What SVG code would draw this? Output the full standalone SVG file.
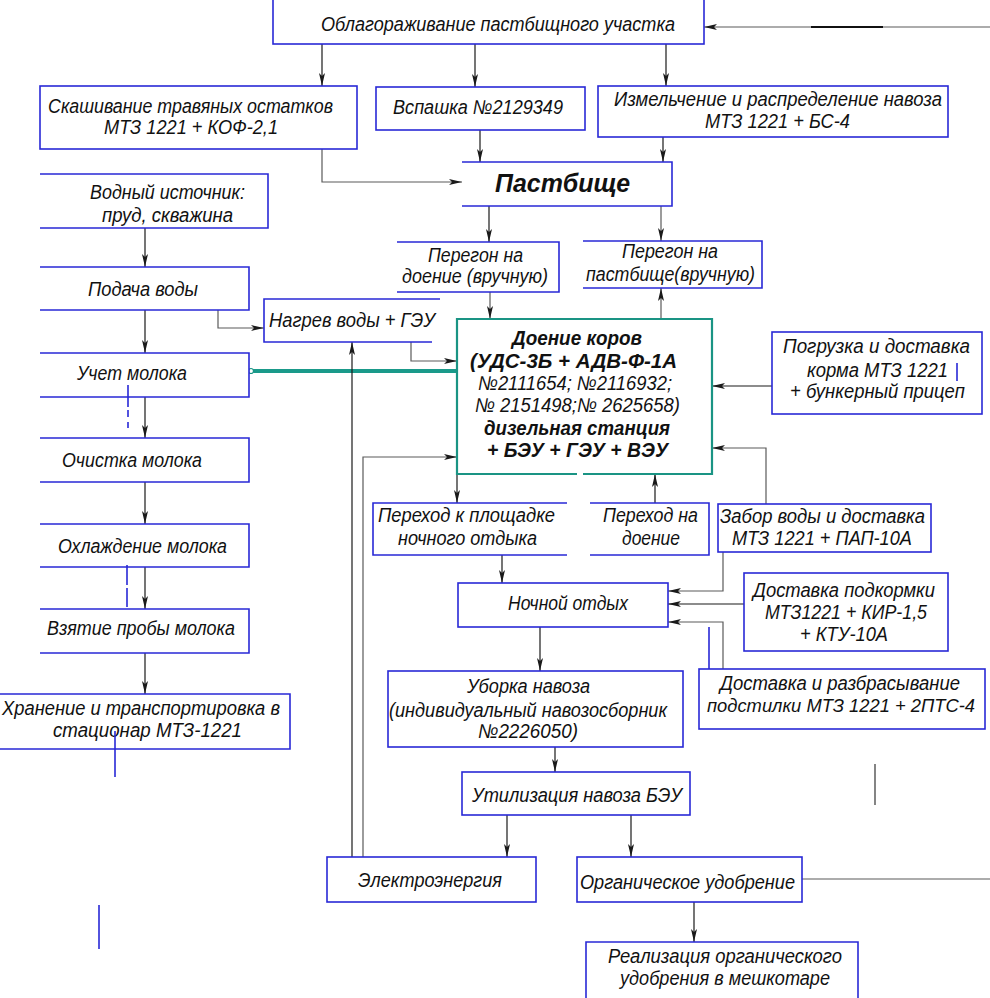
<svg xmlns="http://www.w3.org/2000/svg" width="990" height="998" viewBox="0 0 990 998">
<defs>
<style>
.b{fill:#fff;stroke:#2828d6;stroke-width:1.6}
.tb{fill:#fff;stroke:#1a9484;stroke-width:2.2}
.c{fill:none;stroke:#1a1a1a;stroke-width:1.2}
.g{fill:none;stroke:#5a5a5a;stroke-width:1.2}
.m{fill:none;stroke:#2828d6;stroke-width:1.6}
text{font-family:"Liberation Sans",Arial,sans-serif;font-style:italic;font-size:20px;fill:#111}
.bd{font-weight:bold}
.big{font-weight:bold;font-size:26px}
.sm{font-size:18px}
</style>
<marker id="a" markerUnits="userSpaceOnUse" markerWidth="14" markerHeight="7" refX="13" refY="3.5" orient="auto"><path d="M0,0.5 L13,3.5 L0,6.5 L3,3.5 z" fill="#1a1a1a"/></marker>
<marker id="o" markerUnits="userSpaceOnUse" markerWidth="8" markerHeight="8" refX="4" refY="4" orient="auto"><circle cx="4" cy="4" r="2.5" fill="#fff" stroke="#1a9484" stroke-width="1.2"/></marker>
</defs>

<g id="connectors">
<path class="g" d="M990,27 H704" marker-end="url(#a)"/>
<path d="M811,27 H883" stroke="#111" stroke-width="2"/>
<path class="c" d="M322,44 V86" marker-end="url(#a)"/>
<path class="c" d="M475,44 V87" marker-end="url(#a)"/>
<path class="c" d="M666,44 V86" marker-end="url(#a)"/>
<path class="g" d="M322,149 V182 H462" marker-end="url(#a)"/>
<path class="c" d="M480,130 V162" marker-end="url(#a)"/>
<path class="c" d="M663,137 V162" marker-end="url(#a)"/>
<path class="c" d="M489,206 V242" marker-end="url(#a)"/>
<path class="g" d="M661,206 V241" marker-end="url(#a)"/>
<path class="g" d="M490,292 V319" marker-end="url(#a)"/>
<path class="g" d="M661,319 V288" marker-end="url(#a)"/>
<path class="c" d="M145,228 V267" marker-end="url(#a)"/>
<path class="c" d="M145,310 V353" marker-end="url(#a)"/>
<path class="c" d="M145,397 V438" marker-end="url(#a)"/>
<path class="c" d="M145,482 V524" marker-end="url(#a)"/>
<path class="c" d="M145,567 V609" marker-end="url(#a)"/>
<path class="c" d="M145,653 V694" marker-end="url(#a)"/>
<path class="g" d="M218,310 V328 H264" marker-end="url(#a)"/>
<path class="g" d="M411,342 V361 H457" marker-end="url(#a)"/>
<path d="M457,371 H251" fill="none" stroke="#1a9a8a" stroke-width="4" marker-end="url(#o)"/>
<path class="c" d="M352,857 V342" marker-end="url(#a)"/>
<path class="g" d="M363,857 V457 H457" marker-end="url(#a)"/>
<path class="c" d="M772,386 H712" marker-end="url(#a)"/>
<path class="c" d="M457,474 V503" marker-end="url(#a)"/>
<path class="c" d="M655,503 V474" marker-end="url(#a)"/>
<path class="g" d="M766,504 V448 H712" marker-end="url(#a)"/>
<path class="c" d="M502,555 V583" marker-end="url(#a)"/>
<path class="g" d="M723,552 V591 H668" marker-end="url(#a)"/>
<path class="c" d="M744,604 H668" marker-end="url(#a)"/>
<path class="g" d="M723,669 V622 H668" marker-end="url(#a)"/>
<path class="c" d="M540,627 V671" marker-end="url(#a)"/>
<path class="c" d="M555,740 V772" marker-end="url(#a)"/>
<path class="c" d="M507,815 V857" marker-end="url(#a)"/>
<path class="c" d="M631,815 V857" marker-end="url(#a)"/>
<path class="g" d="M802,879 H990"/>
<path class="c" d="M694,902 V942" marker-end="url(#a)"/>
</g>

<g id="n_oblag"><rect class="b" x="273" y="-1" width="431" height="45"/>
<text x="321" y="31" textLength="354" lengthAdjust="spacingAndGlyphs">Облагораживание пастбищного участка</text></g>

<g id="n_skash"><rect class="b" x="40" y="86" width="317" height="63"/>
<text x="48" y="113" textLength="285" lengthAdjust="spacingAndGlyphs">Скашивание травяных остатков</text>
<text x="104" y="134" textLength="174" lengthAdjust="spacingAndGlyphs">МТЗ 1221 + КОФ-2,1</text></g>

<g id="n_vspash"><rect class="b" x="376" y="87" width="209" height="43"/>
<text x="393" y="114" textLength="170" lengthAdjust="spacingAndGlyphs">Вспашка №2129349</text></g>

<g id="n_izmel"><rect class="b" x="598" y="86" width="350" height="51"/>
<text x="614" y="106" textLength="328" lengthAdjust="spacingAndGlyphs">Измельчение и распределение навоза</text>
<text x="705" y="128" textLength="145" lengthAdjust="spacingAndGlyphs">МТЗ 1221 + БС-4</text></g>

<g id="n_pastb"><path class="b" d="M462,162 H672 V206 H462"/>
<text class="big" x="495" y="192" textLength="135" lengthAdjust="spacingAndGlyphs">Пастбище</text></g>

<g id="n_vodn"><path class="b" d="M40,174 H268 V228 H40"/>
<text x="90" y="199" textLength="155" lengthAdjust="spacingAndGlyphs">Водный источник:</text>
<text x="102" y="222" textLength="131" lengthAdjust="spacingAndGlyphs">пруд, скважина</text></g>

<g id="n_podacha"><path class="b" d="M40,267 H249 V310 H40"/>
<text x="88" y="296" textLength="110" lengthAdjust="spacingAndGlyphs">Подача воды</text></g>

<g id="n_uchet"><path class="b" d="M40,353 H249 V397 H40"/>
<text x="77" y="380" textLength="110" lengthAdjust="spacingAndGlyphs">Учет молока</text></g>

<g id="n_ochist"><path class="b" d="M40,438 H249 V482 H40"/>
<text x="62" y="467" textLength="140" lengthAdjust="spacingAndGlyphs">Очистка молока</text></g>

<g id="n_ohlazh"><path class="b" d="M40,524 H249 V567 H40"/>
<text x="58" y="553" textLength="169" lengthAdjust="spacingAndGlyphs">Охлаждение молока</text></g>

<g id="n_vzyat"><path class="b" d="M40,609 H249 V653 H40"/>
<text x="47" y="635" textLength="188" lengthAdjust="spacingAndGlyphs">Взятие пробы молока</text></g>

<g id="n_hran"><path class="b" d="M0,694 H290 V749 H0"/>
<text x="2" y="715" textLength="278" lengthAdjust="spacingAndGlyphs">Хранение и транспортировка в</text>
<text x="53" y="737" textLength="189" lengthAdjust="spacingAndGlyphs">стационар МТЗ-1221</text></g>

<g id="n_nagrev"><path class="b" d="M440,299 H264 V342 H432"/>
<text x="269" y="327" textLength="166" lengthAdjust="spacingAndGlyphs">Нагрев воды + ГЭУ</text></g>

<g id="n_peregon1"><path class="b" d="M397,242 H559 V292 H397"/>
<text x="428" y="262" textLength="95" lengthAdjust="spacingAndGlyphs">Перегон на</text>
<text x="402" y="283" textLength="146" lengthAdjust="spacingAndGlyphs">доение (вручную)</text></g>

<g id="n_peregon2"><path class="b" d="M583,241 H762 V288 H583"/>
<text x="622" y="258" textLength="96" lengthAdjust="spacingAndGlyphs">Перегон на</text>
<text x="586" y="281" textLength="169" lengthAdjust="spacingAndGlyphs">пастбище(вручную)</text></g>

<g id="n_doenie"><path class="tb" d="M577,474 H457 V319 H712 V474 H583"/>
<text class="bd" x="512" y="345" textLength="130" lengthAdjust="spacingAndGlyphs">Доение коров</text>
<text class="bd" x="470" y="368" textLength="207" lengthAdjust="spacingAndGlyphs">(УДС-3Б + АДВ-Ф-1А</text>
<text x="478" y="390" textLength="194" lengthAdjust="spacingAndGlyphs">№2111654; №2116932;</text>
<text x="475" y="412" textLength="205" lengthAdjust="spacingAndGlyphs">№ 2151498;№ 2625658)</text>
<text class="bd" x="484" y="435" textLength="186" lengthAdjust="spacingAndGlyphs">дизельная станция</text>
<text class="bd" x="487" y="457" textLength="181" lengthAdjust="spacingAndGlyphs">+ БЭУ + ГЭУ + ВЭУ</text></g>

<g id="n_pogruz"><rect class="b" x="772" y="332" width="210" height="82"/>
<text x="783" y="353" textLength="187" lengthAdjust="spacingAndGlyphs">Погрузка и доставка</text>
<text x="807" y="377" textLength="141" lengthAdjust="spacingAndGlyphs">корма МТЗ 1221</text>
<text x="790" y="398" textLength="175" lengthAdjust="spacingAndGlyphs">+ бункерный прицеп</text></g>

<g id="n_perehod1"><path class="b" d="M567,503 H373 V555 H567"/>
<text x="378" y="522" textLength="177" lengthAdjust="spacingAndGlyphs">Переход к площадке</text>
<text x="398" y="545" textLength="139" lengthAdjust="spacingAndGlyphs">ночного отдыка</text></g>

<g id="n_perehod2"><path class="b" d="M590,503 H709 V555 H590"/>
<text x="603" y="522" textLength="95" lengthAdjust="spacingAndGlyphs">Переход на</text>
<text x="622" y="545" textLength="58" lengthAdjust="spacingAndGlyphs">доение</text></g>

<g id="n_zabor"><rect class="b" x="718" y="504" width="213" height="48"/>
<text x="720" y="523" textLength="205" lengthAdjust="spacingAndGlyphs">Забор воды и доставка</text>
<text x="732" y="545" textLength="180" lengthAdjust="spacingAndGlyphs">МТЗ 1221 + ПАП-10А</text></g>

<g id="n_noch"><rect class="b" x="458" y="583" width="210" height="44"/>
<text x="508" y="610" textLength="120" lengthAdjust="spacingAndGlyphs">Ночной отдых</text></g>

<g id="n_podkorm"><rect class="b" x="744" y="573" width="204" height="78"/>
<text x="753" y="597" textLength="182" lengthAdjust="spacingAndGlyphs">Доставка подкормки</text>
<text x="765" y="619" textLength="162" lengthAdjust="spacingAndGlyphs">МТЗ1221 + КИР-1,5</text>
<text x="800" y="641" textLength="88" lengthAdjust="spacingAndGlyphs">+ КТУ-10А</text></g>

<g id="n_podstil"><rect class="b" x="699" y="669" width="286" height="60"/>
<text x="720" y="690" textLength="240" lengthAdjust="spacingAndGlyphs">Доставка и разбрасывание</text>
<text class="sm" x="707" y="712" textLength="268" lengthAdjust="spacingAndGlyphs">подстилки МТЗ 1221 + 2ПТС-4</text></g>

<g id="n_uborka"><rect class="b" x="388" y="671" width="295" height="76"/>
<text x="467" y="693" textLength="123" lengthAdjust="spacingAndGlyphs">Уборка навоза</text>
<text x="389" y="717" textLength="278" lengthAdjust="spacingAndGlyphs">(индивидуальный навозосборник</text>
<text x="478" y="738" textLength="100" lengthAdjust="spacingAndGlyphs">№2226050)</text></g>

<g id="n_util"><rect class="b" x="462" y="772" width="228" height="43"/>
<text x="472" y="802" textLength="210" lengthAdjust="spacingAndGlyphs">Утилизация навоза БЭУ</text></g>

<g id="n_elektro"><rect class="b" x="327" y="857" width="209" height="45"/>
<text x="358" y="887" textLength="144" lengthAdjust="spacingAndGlyphs">Электроэнергия</text></g>

<g id="n_organ"><rect class="b" x="577" y="857" width="225" height="45"/>
<text x="580" y="889" textLength="215" lengthAdjust="spacingAndGlyphs">Органическое удобрение</text></g>

<g id="n_real"><path class="b" d="M586,1000 V942 H858 V1000"/>
<text x="608" y="963" textLength="234" lengthAdjust="spacingAndGlyphs">Реализация органического</text>
<text x="620" y="985" textLength="210" lengthAdjust="spacingAndGlyphs">удобрения в мешкотаре</text></g>

<g id="marks">
<path class="m" d="M128,385 V428" stroke-dasharray="22,3,7,5"/>
<path class="m" d="M127,565 V607" stroke-dasharray="20,3"/>
<path class="m" d="M115,731 V777"/>
<path class="m" d="M99,905 V949"/>
<path class="m" d="M709,627 V669"/>
<path class="m" d="M957,363 V381"/>
<path d="M875,764 V805" stroke="#666" stroke-width="1.6"/>
</g>
</svg>
